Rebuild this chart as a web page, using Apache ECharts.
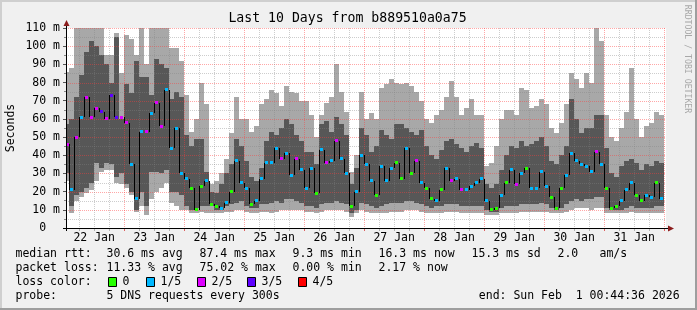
<!DOCTYPE html>
<html><head><meta charset="utf-8">
<script src="https://cdn.jsdelivr.net/npm/echarts@6/dist/echarts.min.js"></script>
<style>html,body{margin:0;padding:0;background:#f0f0f0}#c{width:697px;height:310px}</style>
</head><body><div id="c"></div>
<script>
// ---- data (2-hour columns starting Jan 22 00:00, hours since then) ----
const startHour = 0.74, endHour = 240.74, colHours = 2;
const lightLo = [26,8,15,17,19,21,26,31,32,32,25,24, 22,18,9,12,7,16,20,22,25,14,12,10, 10,8,8,9,8,8,8,8,9,9,10,10, 9,8,8,9,9,8,9,10,10,10,10,10, 9,9,8,9,10,10,10,10,9,6,8,10, 9,8,8,8,8,9,9,9,10,10,10,9, 8,8,8,8,9,9,9,8,8,8,8,8, 7,7,7,8,8,8,8,9,9,9,9,9, 9,8,8,8,9,10,11,11,11,10,11,11, 8,8,8,8,8,9,8,8,8,8,8,8];
const lightHi = [86,88,110,110,110,110,110,110,95,95,107,85, 106,104,95,110,90,110,110,110,110,99,99,92, 73,53,60,80,68,24,26,30,38,52,72,60, 60,53,56,68,71,76,74,67,78,75,74,70, 70,62,50,62,69,72,90,75,64,31,40,75, 60,63,60,77,79,82,80,79,80,78,75,70, 60,58,62,65,72,81,72,62,66,71,62,62, 34,36,45,60,65,65,62,77,76,66,67,71, 68,55,52,58,68,85,82,77,85,80,110,103, 62,50,48,55,64,88,60,50,56,58,64,62];
const darkLo = [30,12,18,20,22,25,36,33,36,35,28,30, 24,20,10,20,12,31,31,30,32,20,20,18, 12,10,11,12,12,12,10,10,12,13,14,15, 12,11,11,13,13,14,15,14,16,16,15,14, 12,12,11,13,14,14,15,14,13,8,10,14, 13,12,11,12,13,14,14,14,15,15,14,13, 12,11,12,12,13,13,13,12,12,12,12,12, 10,9,9,11,12,12,12,13,13,13,13,14, 13,11,10,11,13,15,16,15,16,16,17,17, 11,10,10,10,11,12,11,11,11,11,12,12];
const darkHi = [57,60,72,84,97,103,100,95,90,80,105,60, 79,74,92,83,83,73,93,90,88,71,75,72, 51,45,49,49,31,20,19,24,30,35,49,45, 37,28,26,33,48,53,51,55,60,57,51,48, 42,42,35,57,59,53,61,57,51,24,33,55, 51,42,45,54,51,49,57,57,55,53,51,54, 45,40,38,43,48,49,46,44,42,45,47,44, 24,22,24,32,40,45,44,48,45,46,48,50, 45,37,35,40,45,71,60,52,55,55,62,62, 44,30,28,34,37,38,36,32,35,34,37,36];
const median = [46,21,50,61,72,61,66,64,60,73,61,61, 58,35,16,53,53,63,69,56,76,44,55,30, 27,22,10,23,26,13,12,11,14,20,37,25, 22,13,15,27,36,36,44,38,41,29,38,32, 22,33,19,43,36,37,48,38,30,12,20,40, 35,26,18,34,26,33,36,27,44,30,37,25, 22,16,15,21,33,26,27,21,21,23,25,27, 15,10,11,18,25,32,24,30,33,22,22,31, 23,17,11,22,29,41,37,35,34,31,42,35, 22,11,12,15,21,25,18,15,18,17,25,16];
const loss = [2,1,2,1,2,2,2,3,2,3,3,2, 2,1,1,1,2,1,2,2,1,1,1,1, 1,0,0,0,1,0,0,1,1,0,1,1, 1,0,1,1,1,1,1,2,1,1,2,1, 1,1,0,1,2,1,2,1,1,0,1,1, 1,1,0,1,1,1,0,0,1,0,2,1, 0,0,1,0,1,2,1,2,1,1,1,1, 1,0,0,1,0,1,2,1,0,1,1,1, 1,0,0,0,1,1,1,1,1,1,2,1, 0,0,0,1,1,1,0,0,1,1,0,1];
const lossColors = ['#26ff00','#00b8ff','#dd00ff','#5e00ff','#ff0000'];
const lossLabels = ['0','1/5','2/5','3/5','4/5'];
const dayLabels = ['22 Jan','23 Jan','24 Jan','25 Jan','26 Jan','27 Jan','28 Jan','29 Jan','30 Jan','31 Jan'];
const dayNoonHours = [12,36,60,84,108,132,156,180,204,228];
const xGridHours = [6,12,18,24,30,36,42,48,54,60,66,72,78,84,90,96,102,108,114,120,126,132,138,144,150,156,162,168,174,180,186,192,198,204,210,216,222,228,234,240];
const yGridValues = [5,10,15,20,25,30,35,40,45,50,55,60,65,70,75,80,85,90,95,100,105,110];
const statsRtt = [['median rtt:',16],['30.6 ms avg',107],['87.4 ms max',200],['9.3 ms min',293],['16.3 ms now',379],['15.3 ms sd',472],['2.0',558],['am/s',600]];
const statsLoss = [['packet loss:',16],['11.33 % avg',107],['75.02 % max',200],['0.00 % min',293],['2.17 % now',379]];
const lossLegendX = [108,146,197,247,298];

const MONO = '"DejaVu Sans Mono", monospace';
const FONT = '11.5px ' + MONO;

const smokeData = lightLo.map((v,i)=>[i*colHours, v, lightHi[i], darkLo[i], darkHi[i]]);
const medianData = median.map((v,i)=>[i*colHours, v, loss[i]]);

function renderSmoke(params, api){
  const s = api.value(0);
  const x0 = Math.max(s, startHour), x1 = Math.min(s+colHours, endHour);
  const a = api.coord([x0, api.value(2)]), b = api.coord([x1, api.value(1)]);
  const c = api.coord([x0, api.value(4)]), d = api.coord([x1, api.value(3)]);
  const xa = Math.round(a[0]), xb = Math.round(b[0]);
  return {type:'group', children:[
    {type:'rect', shape:{x:xa, y:Math.round(a[1]), width:xb-xa, height:Math.round(b[1])-Math.round(a[1])}, style:{fill:'#a8a8a8'}},
    {type:'rect', shape:{x:xa, y:Math.round(c[1]), width:xb-xa, height:Math.round(d[1])-Math.round(c[1])}, style:{fill:'#575757'}}
  ]};
}
function renderMedian(params, api){
  const i = params.dataIndex;
  const s = api.value(0), m = api.value(1), ls = api.value(2);
  const children = [];
  if (i > 0) {
    const q = api.coord([s, median[i-1]]), r = api.coord([s, m]);
    const xx = Math.round(q[0]) + 0.5;
    children.push({type:'line', shape:{x1:xx, y1:Math.round(q[1]), x2:xx, y2:Math.round(r[1])}, style:{stroke:'#000', lineWidth:1}});
  }
  const p = api.coord([Math.max(s+colHours/2, startHour+0.6), m]);
  children.push({type:'rect', shape:{x:Math.round(p[0]-1.5), y:Math.round(p[1]-1.5), width:3, height:3}, style:{fill:lossColors[ls]}});
  return {type:'group', children};
}
function renderHGrid(params, api){
  const cs = params.coordSys;
  const v = api.value(1);
  const p = api.coord([startHour, v]);
  const y = Math.round(p[1]) + 0.5;
  const major = v % 10 === 0;
  return {type:'line', shape:{x1:cs.x, y1:y, x2:cs.x+cs.width, y2:y},
    style:{stroke: major ? 'rgba(255,60,60,0.45)' : 'rgba(130,130,130,0.4)', lineWidth:1, lineDash:[1,1]}};
}
function renderVGrid(params, api){
  const cs = params.coordSys;
  const h = api.value(0);
  const p = api.coord([h, 0]);
  const x = Math.round(p[0]) + 0.5;
  const major = h % 24 === 0;
  const col = major ? 'rgba(255,60,60,0.45)' : 'rgba(130,130,130,0.4)';
  return {type:'group', children:[
    {type:'line', shape:{x1:x, y1:cs.y, x2:x, y2:cs.y+cs.height}, style:{stroke:col, lineWidth:1, lineDash:[1,1]}},
    {type:'line', shape:{x1:x, y1:cs.y+cs.height+1, x2:x, y2:cs.y+cs.height+3}, style:{stroke: major ? '#e06060' : '#b0b0b0', lineWidth:1}}
  ]};
}
function renderDayLabel(params, api){
  const p = api.coord([api.value(0), 0]);
  return {type:'text', x:p[0], y:p[1]+10, style:{text:dayLabels[params.dataIndex], fill:'#000', font:FONT, align:'center', verticalAlign:'middle'}};
}

function txt(t, x, y, extra){
  return Object.assign({type:'text', x:x, y:y, z:100, style:{text:t, fill:'#000', font:FONT, align:'left', verticalAlign:'middle'}}, extra||{});
}
const graphic = [
  {type:'rect', z:-10, shape:{x:0,y:0,width:697,height:310}, style:{fill:'#f0f0f0'}},
  {type:'rect', z:-9, shape:{x:0,y:0,width:697,height:2}, style:{fill:'#cfcfcf'}},
  {type:'rect', z:-9, shape:{x:0,y:0,width:2,height:310}, style:{fill:'#cfcfcf'}},
  {type:'rect', z:-9, shape:{x:0,y:308,width:697,height:2}, style:{fill:'#9e9e9e'}},
  {type:'rect', z:-9, shape:{x:695,y:0,width:2,height:310}, style:{fill:'#9e9e9e'}},
  txt('Last 10 Days from b889510a0a75', 347.5, 19, {style:{text:'Last 10 Days from b889510a0a75', fill:'#000', font:'13.2px '+MONO, align:'center', verticalAlign:'middle'}}),
  {type:'text', x:11, y:128, rotation:Math.PI/2, z:100, style:{text:'Seconds', fill:'#000', font:FONT, align:'center', verticalAlign:'middle'}},
  {type:'text', x:687, y:59, rotation:-Math.PI/2, z:100, style:{text:'RRDTOOL / TOBI OETIKER', fill:'#a8a8a8', font:'8.2px '+MONO, align:'center', verticalAlign:'middle'}},
  // axis extensions and arrows
  {type:'line', z:100, shape:{x1:63, y1:228.5, x2:669, y2:228.5}, style:{stroke:'#000', lineWidth:1}},
  {type:'polygon', z:101, shape:{points:[[668,225.5],[674,228.5],[668,231.5]]}, style:{fill:'#8b1c1c'}},
  {type:'line', z:100, shape:{x1:66.5, y1:231, x2:66.5, y2:24}, style:{stroke:'#000', lineWidth:1}},
  {type:'polygon', z:101, shape:{points:[[63.5,26],[66.5,20],[69.5,26]]}, style:{fill:'#8b1c1c'}},
  txt('loss color:', 15.5, 282.3),
  txt('probe:', 15.5, 296),
  txt('5 DNS requests every 300s', 106.5, 296),
  txt('end: Sun Feb  1 00:44:36 2026', 478.8, 296)
];
statsRtt.forEach(s=>graphic.push(txt(s[0], s[1]-0.5, 254.3)));
statsLoss.forEach(s=>graphic.push(txt(s[0], s[1]-0.5, 268.3)));
lossLabels.forEach((l,i)=>{
  graphic.push({type:'rect', z:100, shape:{x:lossLegendX[i]+0.5, y:277.5, width:8, height:9}, style:{fill:lossColors[i], stroke:'#000', lineWidth:1}});
  graphic.push(txt(l, lossLegendX[i]+14.5, 282.3));
});

const chart = echarts.init(document.getElementById('c'), null, {renderer:'canvas'});
chart.setOption({
  animation:false,
  backgroundColor:'#f0f0f0',
  grid:{left:66, top:28, width:600, height:200, show:true, backgroundColor:'#ffffff', borderWidth:0},
  xAxis:{type:'value', min:startHour, max:endHour, axisLine:{show:false}, axisTick:{show:false}, axisLabel:{show:false}, splitLine:{show:false}},
  yAxis:{type:'value', min:0, max:110, interval:10, z:10,
    axisLine:{show:false},
    axisTick:{show:true, length:3, lineStyle:{color:'#555'}},
    minorTick:{show:true, splitNumber:2, length:2, lineStyle:{color:'#888'}},
    splitLine:{show:false},
    axisLabel:{margin:6, color:'#000', fontFamily:MONO, fontSize:11.5, formatter:v => v === 0 ? '0  ' : v + ' m'}},
  graphic: graphic,
  series:[
    {type:'custom', name:'smoke', z:2, data:smokeData, encode:{x:0, y:[1,2]}, renderItem:renderSmoke},
    {type:'custom', name:'hgrid', z:3, data:yGridValues.map(v=>[startHour, v]), encode:{x:0,y:1}, renderItem:renderHGrid},
    {type:'custom', name:'vgrid', z:3, data:xGridHours.map(h=>[h, 0]), encode:{x:0,y:1}, renderItem:renderVGrid},
    {type:'custom', name:'median', z:4, data:medianData, encode:{x:0, y:1}, renderItem:renderMedian},
    {type:'custom', name:'days', z:4, data:dayNoonHours.map(h=>[h,0]), encode:{x:0,y:1}, renderItem:renderDayLabel}
  ]
});
</script></body></html>
